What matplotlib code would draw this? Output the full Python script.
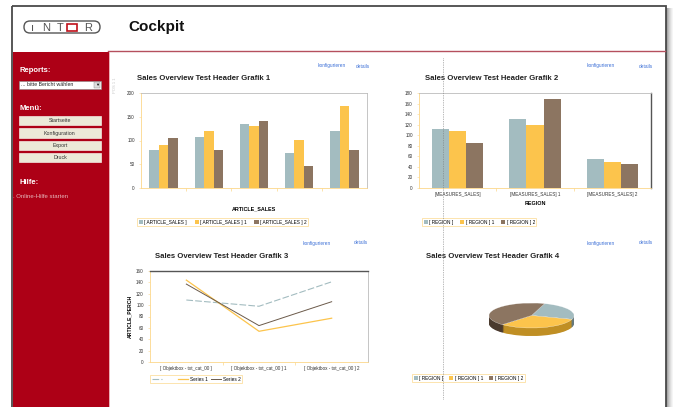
import matplotlib
matplotlib.use("Agg")
import matplotlib.pyplot as plt
from matplotlib.patches import Rectangle, FancyBboxPatch
import numpy as np

plt.rcParams['font.family'] = ['Liberation Sans', 'DejaVu Sans']

# === Data ===
sales_groups = ["g1", "g2", "g3", "g4", "g5"]
sales_s0 = [80, 107, 134, 73, 119]
sales_s1 = [90, 120, 131, 102, 172]
sales_s2 = [106, 81, 141, 47, 80]
sales_labels = ["[ ARTICLE_SALES ]", "[ ARTICLE_SALES ] 1", "[ ARTICLE_SALES ] 2"]

region_cats = ["[MEASURES_SALES]", "[MEASURES_SALES] 1", "[MEASURES_SALES] 2"]
region_s0 = [111, 130, 55]
region_s1 = [108, 120, 50]
region_s2 = [85, 168, 45]
region_labels = ["[ REGION ]", "[ REGION ] 1", "[ REGION ] 2"]

perch_cats = ["[ Objektbox - txt_cat_00 ]", "[ Objektbox - txt_cat_00 ] 1", "[ Objektbox - txt_cat_00 ] 2"]
perch_s0 = [109, 98, 141]
perch_s1 = [144, 54, 77]
perch_s2 = [137, 64, 106]
perch_labels = ["        ", "Series 1", "Series 2"]

pie_values = [25, 32, 43]

menu_items = ["Startseite", "Konfiguration", "Export", "Druck"]

BLUE = '#a3bcc0'
YELLOW = '#fcc44c'
BROWN = '#8c7561'
RED = '#ad0016'
AXIS_ORANGE = '#fcd78a'
LINK = '#3b6fd6'

W, H = 673, 407


def box(x0, y0, x1, y1):
    return [x0 / W, 1 - y1 / H, (x1 - x0) / W, (y1 - y0) / H]


fig = plt.figure(figsize=(W / 100, H / 100), dpi=100)
fig.patch.set_facecolor('white')

# === Page background / frame ===
bg = fig.add_axes([0, 0, 1, 1])
bg.set_xlim(0, W)
bg.set_ylim(H, 0)
bg.axis('off')

# shadow on right
for i, c in enumerate(['#8a8a8a', '#a8a8a8', '#bdbdbd', '#cfcfcf', '#dedede', '#ebebeb', '#f5f5f5']):
    bg.add_patch(Rectangle((666 + i, 8), 1, H, color=c, lw=0))
bg.add_patch(Rectangle((12, 6), 654, H, fill=False, ec='#4a4a4a', lw=1.3))

# header
bg.plot([108, 665], [51, 51], color='#b5505e', lw=1.0)
bg.add_patch(Rectangle((12.6, 52), 96, H, color=RED, lw=0))
bg.plot([108.5, 108.5], [52, H], color='#e8a0a8', lw=0.6)

# logo
bg.add_patch(FancyBboxPatch((24, 21), 76, 12, boxstyle="round,pad=0,rounding_size=6",
                            fill=False, ec='#555555', lw=1.0))
for xx, ch in zip([33, 46, 60], ["ı", "N", "T"]):
    bg.text(xx, 28, ch, fontsize=8, color='#555555', ha='center', va='center')
bg.add_patch(Rectangle((67, 24), 10, 7, fill=False, ec='#c0101a', lw=1.2))
bg.text(88, 28, "R", fontsize=8, color='#555555', ha='center', va='center')
bg.text(128, 27, "Cockpit", fontsize=11, fontweight='bold', color='#111111', va='center')

# sidebar
bg.text(19, 70, "Reports:", fontsize=5.5, fontweight='bold', color='white', va='center')
bg.add_patch(Rectangle((19, 80.5), 82, 8, color='white', ec='#888888', lw=0.4))
bg.text(21, 84.5, "... bitte Bericht wählen", fontsize=3.8, color='#222222', va='center')
bg.add_patch(Rectangle((94, 81.5), 6, 6, color='#dddddd', ec='#888888', lw=0.3))
bg.text(97, 84.7, "▼", fontsize=3, color='#111111', ha='center', va='center')
bg.text(19, 108, "Menü:", fontsize=5.5, fontweight='bold', color='white', va='center')
for i, item in enumerate(menu_items):
    y0 = 116 + i * 12.3
    bg.add_patch(Rectangle((19, y0), 82, 9.3, color='#ece9d8', ec='#f4e8e0', lw=0.5))
    bg.text(60, y0 + 4.8, item, fontsize=3.8, color='#333333', ha='center', va='center')
bg.text(19, 182, "Hilfe:", fontsize=5.5, fontweight='bold', color='white', va='center')
bg.text(13, 196, ". Online-Hilfe starten", fontsize=4.3, color='#e6b8bc', va='center')

# faint vertical tag at content left
bg.text(115, 85, "POS 1 1", fontsize=3, color='#c8c8c8', rotation=90, ha='center', va='center')

# titles and links
titles = [(137, 78, 1), (425, 79, 2), (155, 257, 3), (426, 257, 4)]
for x, y, n in titles:
    bg.text(x, y, f"Sales Overview Test Header Grafik {n}", fontsize=5.6,
            fontweight='bold', color='#222222', va='center')
for x1, x2, y in [(318, 356, 66), (587, 639, 66), (303, 354, 243), (587, 639, 243)]:
    bg.text(x1, y, "konfigurieren", fontsize=3.4, color=LINK, va='center')
    bg.text(x2, y, "details", fontsize=3.4, color=LINK, va='center')


def style_axes(ax, right_dark=False, top_dark=False):
    ax.set_facecolor('white')
    ax.spines['left'].set_color(AXIS_ORANGE)
    ax.spines['bottom'].set_color(AXIS_ORANGE)
    ax.spines['top'].set_color('#555555' if top_dark else '#bbbbbb')
    ax.spines['right'].set_color('#555555' if right_dark else '#bbbbbb')
    for s in ax.spines.values():
        s.set_linewidth(0.6)
    ax.spines['right'].set_linewidth(1.0 if right_dark else 0.6)
    ax.spines['top'].set_linewidth(1.0 if top_dark else 0.6)
    ax.tick_params(axis='y', labelsize=3.3, length=1.5, width=0.4, color=AXIS_ORANGE, pad=3, labelcolor='#333333')
    ax.tick_params(axis='x', which='major', labelsize=3.3, length=0, pad=3, labelcolor='#333333')
    ax.tick_params(axis='x', which='minor', length=2, width=0.5, color=AXIS_ORANGE)


def bar_legend(ax, labels, x, y, spacing=0.8):
    leg = ax.legend(labels, loc='upper left', bbox_to_anchor=(x / W, 1 - y / H),
                    bbox_transform=fig.transFigure, ncol=3, fontsize=3.4, frameon=True,
                    fancybox=False, edgecolor=AXIS_ORANGE, handlelength=0.9, handleheight=0.9,
                    borderpad=0.35, columnspacing=spacing, handletextpad=0.3, borderaxespad=0)
    leg.get_frame().set_linewidth(0.6)
    return leg


# === Chart 1 ===
ax1 = fig.add_axes(box(141, 93, 367, 188))
style_axes(ax1)
x = np.arange(len(sales_groups))
bw = 0.21
ax1.bar(x - bw, sales_s0, bw, color=BLUE)
ax1.bar(x, sales_s1, bw, color=YELLOW)
ax1.bar(x + bw, sales_s2, bw, color=BROWN)
ax1.set_xlim(-0.5, len(sales_groups) - 0.5)
ax1.set_ylim(0, 200)
ax1.set_yticks([0, 50, 100, 150, 200])
ax1.set_xticks([])
ax1.set_xticks(x[:-1] + 0.5, minor=True)
ax1.set_xlabel("ARTICLE_SALES", fontsize=3.9, fontweight='bold', labelpad=11)
ax1.xaxis.set_label_coords(0.5, -0.19)
bar_legend(ax1, sales_labels, 137, 218, spacing=1.6)

# === Chart 2 ===
ax2 = fig.add_axes(box(419, 93, 651, 188))
style_axes(ax2, right_dark=True)
x = np.arange(len(region_cats))
bw = 0.22
ax2.bar(x - bw, region_s0, bw, color=BLUE)
ax2.bar(x, region_s1, bw, color=YELLOW)
ax2.bar(x + bw, region_s2, bw, color=BROWN)
ax2.set_xlim(-0.5, len(region_cats) - 0.5)
ax2.set_ylim(0, 180)
ax2.set_yticks(range(0, 181, 20))
ax2.set_xticks(x)
ax2.set_xticks(x[:-1] + 0.5, minor=True)
ax2.set_xticklabels(region_cats)
ax2.set_xlabel("REGION", fontsize=3.9, fontweight='bold', labelpad=3)
bar_legend(ax2, region_labels, 422, 218, spacing=1.4)

# === Chart 3 ===
ax3 = fig.add_axes(box(150, 271, 368, 362))
style_axes(ax3, top_dark=True)
x = np.arange(len(perch_cats))
ax3.plot(x, perch_s0, color=BLUE, lw=0.8, dashes=(6, 2))
ax3.plot(x, perch_s1, color=YELLOW, lw=0.9)
ax3.plot(x, perch_s2, color='#6b5a4a', lw=0.7)
ax3.set_xlim(-0.5, len(perch_cats) - 0.5)
ax3.set_ylim(0, 160)
ax3.set_yticks(range(0, 161, 20))
ax3.set_xticks(x)
ax3.set_xticks(x[:-1] + 0.5, minor=True)
ax3.set_xticklabels(perch_cats)
ax3.set_ylabel("ARTICLE_PERCH", fontsize=3.7, fontweight='bold', labelpad=3)
leg3 = ax3.legend(perch_labels, loc='upper left', bbox_to_anchor=(150 / W, 1 - 375 / H),
                  bbox_transform=fig.transFigure, ncol=3, fontsize=3.4, frameon=True,
                  fancybox=False, edgecolor=AXIS_ORANGE, handlelength=2.2,
                  borderpad=0.35, columnspacing=0.6, handletextpad=0.4, borderaxespad=0)
leg3.get_frame().set_linewidth(0.6)

# === Chart 4: pseudo 3D pie ===
ax4 = fig.add_axes(box(481, 290, 582, 345))
pie_cols = [BLUE, YELLOW, BROWN]
dark_cols = ['#66787b', '#c08f24', '#4a3a2e']
top_y = 0.16
thick = 0.64
steps = 14
for k in range(steps, 0, -1):
    yy = top_y - thick * k / steps
    ax4.pie(pie_values, colors=dark_cols, startangle=72, counterclock=False,
            center=(0, yy), radius=1.0, wedgeprops=dict(linewidth=0))
ax4.pie(pie_values, colors=pie_cols, startangle=72, counterclock=False,
        center=(0, top_y), radius=1.0, wedgeprops=dict(linewidth=0.2, edgecolor='#ffffff'))
ax4.set_aspect('auto')
ax4.set_xlim(-1.188, 1.188)
ax4.set_ylim(-2.2, 2.2)
ax4.axis('off')

# pie legend
lax = fig.add_axes(box(412, 374, 530, 386))
lax.axis('off')
for c in pie_cols:
    lax.bar([0], [0], color=c)
leg4 = lax.legend(region_labels, loc='upper left', bbox_to_anchor=(412 / W, 1 - 374 / H),
                  bbox_transform=fig.transFigure, ncol=3, fontsize=3.4, frameon=True,
                  fancybox=False, edgecolor=AXIS_ORANGE, handlelength=0.9, handleheight=0.9,
                  borderpad=0.35, columnspacing=1.2, handletextpad=0.3, borderaxespad=0)
leg4.get_frame().set_linewidth(0.6)

# dotted divider on top
ov = fig.add_axes([0, 0, 1, 1], facecolor='none')
ov.set_xlim(0, W)
ov.set_ylim(H, 0)
ov.axis('off')
ov.plot([443, 443], [58, 400], color='#777777', lw=0.5, ls=(0, (1, 1.5)))

fig.savefig("out.png", dpi=100)
